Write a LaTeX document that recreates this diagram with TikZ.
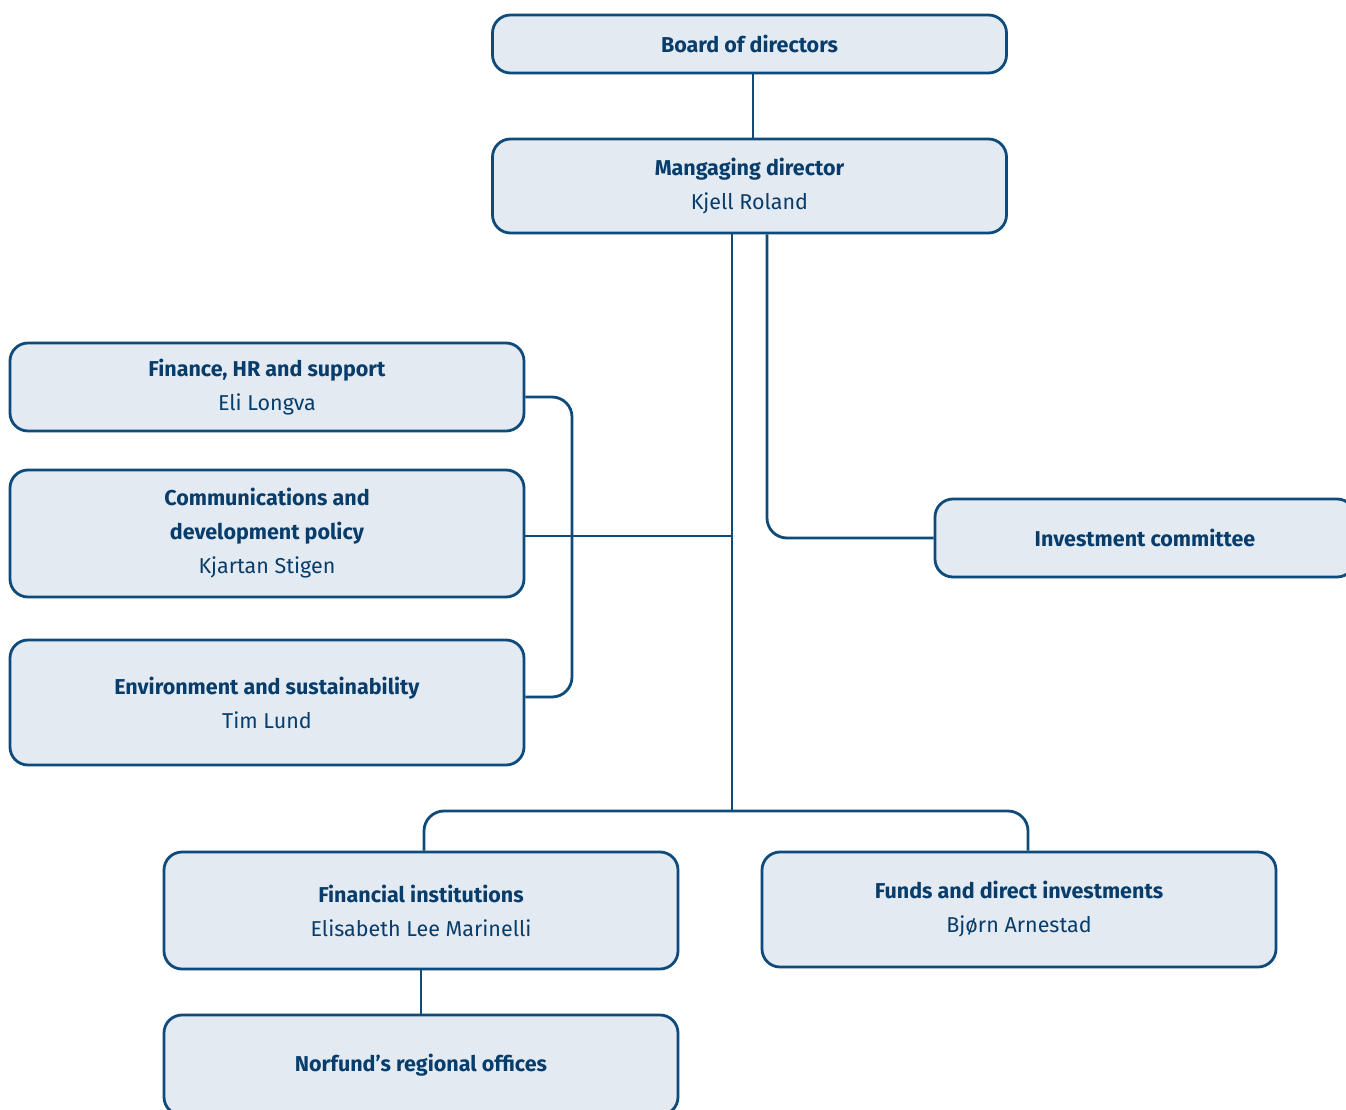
\documentclass[tikz,border=0pt]{standalone}
\usepackage{fontspec}
\setmainfont{Fira Sans}
\definecolor{boxfill}{HTML}{E3EAF2}
\definecolor{boxline}{HTML}{0E4A7A}
\definecolor{txt}{HTML}{083D6B}
\begin{document}
\begin{tikzpicture}[x=1pt,y=-1pt,
  box/.style={draw=boxline, fill=boxfill, line width=2.8pt, rounded corners=18pt,
    minimum width=514pt, inner sep=0pt, align=center, text=txt,
    font=\fontsize{21.5}{34}\selectfont},
  conn/.style={draw=boxline, line width=2.8pt}]
\clip (0,0) rectangle (1346,1110);
\fill[white] (0,0) rectangle (1346,1110);
\node[box, minimum height=58pt] (board) at (749.5,44) {\textbf{Board of directors}};
\node[box, minimum height=94pt] (md) at (749.5,186) {\textbf{Mangaging director}\\Kjell Roland};
\node[box, minimum height=88pt] (fin) at (267,387) {\textbf{Finance, HR and support}\\Eli Longva};
\node[box, minimum height=127pt] (comm) at (267,533.5) {\textbf{Communications and}\\\textbf{development policy}\\Kjartan Stigen};
\node[box, minimum height=125pt] (env) at (267,702.5) {\textbf{Environment and sustainability}\\Tim Lund};
\node[box, minimum width=420pt, minimum height=78pt] (inv) at (1145,538) {\textbf{Investment committee}};
\node[box, minimum height=117pt] (fi) at (421,910.5) {\textbf{Financial institutions}\\Elisabeth Lee Marinelli};
\node[box, minimum height=115pt] (funds) at (1019,909.5) {\textbf{Funds and direct investments}\\Bjørn Arnestad};
\node[box, minimum height=100pt] (norf) at (421,1065) {\textbf{Norfund’s regional offices}};
\coordinate (hub) at (732,811);
\coordinate (brk) at (572,536);
\draw[conn] ([xshift=3.5pt]board.south) -- ([xshift=3.5pt]md.north);
\draw[conn] ([xshift=-17.5pt]md.south) -- (hub);
\draw[conn, rounded corners=20pt] ([xshift=17.5pt]md.south) |- (inv.west);
\draw[conn] (comm.east |- brk) -- (hub |- brk);
\draw[conn, rounded corners=20pt] ([yshift=-10pt]fin.east) -| (brk) |- ([yshift=5.5pt]env.east);
\draw[conn, rounded corners=20pt] ([xshift=3pt]fi.north) |- (hub) -| ([xshift=9pt]funds.north);
\draw[conn] (fi.south) -- (norf.north);
\end{tikzpicture}
\end{document}
